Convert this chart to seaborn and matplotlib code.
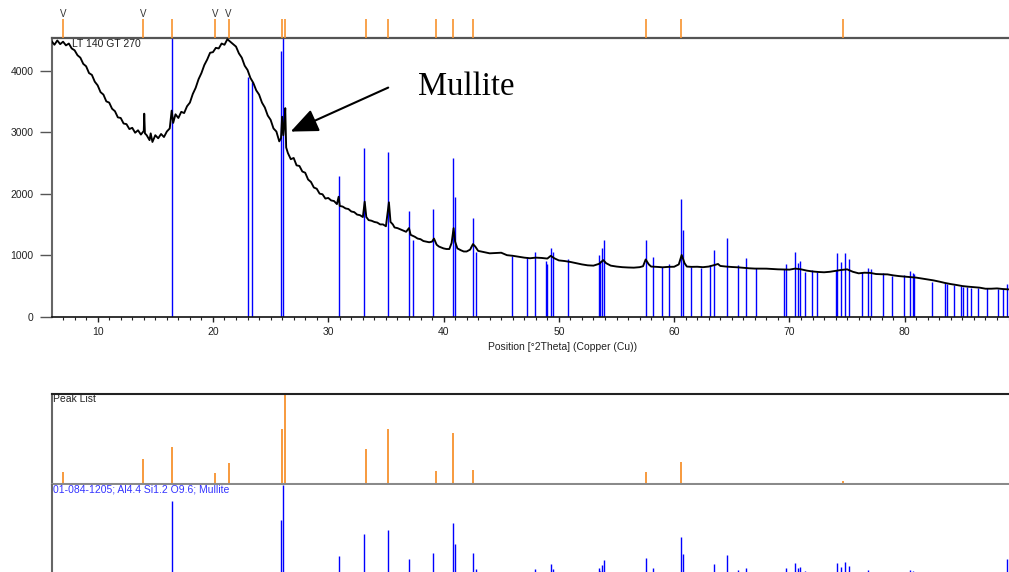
import numpy as np
import pandas as pd
import seaborn as sns
import matplotlib.pyplot as plt
from matplotlib.ticker import MultipleLocator

# measured scan (2theta, counts)
scan_points = [
    (6.00, 4480), (6.25, 4420), (6.50, 4490), (6.75, 4430), (7.00, 4470), (7.25, 4410),
    (7.50, 4440), (7.75, 4360), (8.00, 4330), (8.25, 4250), (8.50, 4210), (8.75, 4110),
    (9.00, 4070), (9.25, 3960), (9.50, 3930), (9.75, 3820), (10.00, 3760), (10.25, 3650),
    (10.50, 3610), (10.75, 3500), (11.00, 3480), (11.25, 3380), (11.50, 3340), (11.75, 3240),
    (12.00, 3230), (12.25, 3140), (12.50, 3130), (12.75, 3050), (13.00, 3070), (13.25, 2990),
    (13.50, 3030), (13.75, 2960), (14.00, 3020), (14.04, 3300), (14.10, 2980), (14.25, 2950),
    (14.50, 2870), (14.60, 2980), (14.75, 2840), (15.00, 2950), (15.25, 2900), (15.50, 2970),
    (15.75, 2920), (16.00, 3010), (16.25, 3060), (16.42, 3350), (16.55, 3150), (16.75, 3290),
    (17.00, 3230), (17.25, 3330), (17.50, 3310), (17.75, 3420), (18.00, 3480), (18.25, 3620),
    (18.50, 3720), (18.75, 3860), (19.00, 3960), (19.25, 4090), (19.50, 4180), (19.75, 4290),
    (20.00, 4300), (20.25, 4370), (20.50, 4360), (20.75, 4440), (21.00, 4420), (21.25, 4510),
    (21.50, 4470), (21.75, 4430), (22.00, 4390), (22.25, 4280), (22.50, 4210), (22.75, 4080),
    (23.00, 4010), (23.25, 3880), (23.50, 3800), (23.75, 3680), (24.00, 3610), (24.25, 3480),
    (24.50, 3400), (24.75, 3270), (25.00, 3200), (25.25, 3060), (25.50, 3010), (25.75, 2850),
    (25.90, 2900), (26.00, 3250), (26.10, 2950), (26.20, 3150), (26.27, 3390), (26.35, 2750),
    (26.50, 2660), (26.75, 2560), (27.00, 2580), (27.25, 2460), (27.50, 2450), (27.75, 2360),
    (28.00, 2340), (28.25, 2230), (28.50, 2190), (28.75, 2100), (29.00, 2080), (29.25, 2000),
    (29.50, 1990), (29.75, 1920), (30.00, 1930), (30.25, 1890), (30.50, 1880), (30.75, 1830),
    (30.90, 1950), (31.00, 1800), (31.25, 1790), (31.50, 1760), (31.75, 1750), (32.00, 1710),
    (32.25, 1700), (32.50, 1660), (32.75, 1650), (33.00, 1620), (33.16, 1870), (33.30, 1620),
    (33.50, 1570), (33.75, 1560), (34.00, 1540), (34.25, 1530), (34.50, 1500), (34.75, 1500),
    (35.00, 1470), (35.26, 1860), (35.40, 1540), (35.60, 1500), (35.75, 1450), (36.00, 1440),
    (36.25, 1420), (36.50, 1400), (36.75, 1380), (37.00, 1440), (37.15, 1330), (37.50, 1300),
    (37.75, 1270), (38.00, 1260), (38.25, 1230), (38.50, 1220), (38.75, 1210), (39.00, 1220),
    (39.17, 1270), (39.40, 1170), (39.60, 1140), (40.00, 1110), (40.25, 1100), (40.50, 1100),
    (40.70, 1200), (40.87, 1440), (41.00, 1220), (41.20, 1110), (41.50, 1080), (41.75, 1060),
    (42.00, 1060), (42.30, 1090), (42.55, 1180), (42.75, 1140), (43.00, 1070), (43.50, 1050),
    (44.00, 1030), (44.50, 1035), (45.00, 1040), (45.50, 1000), (46.00, 990), (46.50, 975),
    (47.00, 960), (47.50, 950), (48.00, 960), (48.50, 955), (49.00, 945), (49.30, 990),
    (49.60, 950), (50.00, 915), (50.50, 905), (51.00, 890), (51.50, 870), (52.00, 850),
    (52.50, 835), (53.00, 830), (53.50, 860), (53.85, 920), (54.10, 870), (54.50, 830),
    (55.00, 815), (55.50, 805), (56.00, 800), (56.50, 797), (57.00, 805), (57.30, 820),
    (57.53, 930), (57.80, 850), (58.00, 815), (58.50, 810), (59.00, 803), (59.50, 810),
    (60.00, 812), (60.40, 850), (60.65, 1003), (60.90, 870), (61.10, 815), (61.50, 810),
    (62.00, 812), (62.50, 805), (63.00, 815), (63.50, 840), (63.80, 857), (64.00, 825),
    (64.50, 815), (65.00, 808), (65.50, 803), (66.00, 795), (66.50, 787), (67.00, 782),
    (67.50, 781), (68.00, 781), (68.50, 775), (69.00, 770), (69.50, 768), (70.00, 765),
    (70.50, 782), (71.00, 770), (71.50, 749), (72.00, 735), (72.50, 727), (73.00, 722),
    (73.50, 730), (74.00, 745), (74.50, 760), (75.00, 770), (75.50, 730), (76.00, 705),
    (76.50, 715), (77.00, 712), (77.50, 694), (78.00, 690), (78.50, 688), (79.00, 672),
    (79.50, 660), (80.00, 652), (80.50, 645), (81.00, 635), (81.50, 620), (82.00, 605),
    (82.50, 590), (83.00, 570), (83.50, 548), (84.00, 530), (84.50, 515), (85.00, 498),
    (85.50, 488), (86.00, 480), (86.50, 472), (87.00, 455), (87.50, 455), (88.00, 460),
    (88.50, 450), (89.00, 444),
]

# peak list
peak_pos = [7.02, 13.95, 16.42, 20.17, 21.36, 25.96, 26.27, 33.27, 35.20, 39.31,
            40.82, 42.52, 57.55, 60.62, 74.67]
peak_rel = [13.4, 28, 41, 12, 23, 61, 100, 39, 61, 14.5, 57, 15, 13.4, 24.5, 2.5]
unmatched_peaks = [7.02, 13.95, 20.17, 21.36]

# reference pattern 01-084-1205 (mullite)
ref_pos = [16.42, 23.06, 23.41, 25.93, 26.10, 30.90, 33.10, 35.20, 37.03, 37.37,
           39.11, 40.79, 40.96, 42.52, 42.78, 45.93, 47.26, 47.95, 48.88, 48.99,
           49.34, 49.52, 50.76, 53.45, 53.54, 53.71, 53.88, 57.55, 58.16, 58.97,
           59.58, 60.62, 60.79, 61.48, 62.35, 63.08, 63.48, 64.55, 65.51, 66.23,
           67.09, 69.55, 69.70, 70.48, 70.74, 70.91, 71.32, 71.93, 72.41, 74.00,
           74.15, 74.49, 74.84, 75.13, 76.31, 76.78, 77.04, 78.13, 78.89, 79.96,
           80.45, 80.74, 80.82, 82.38, 83.51, 83.68, 84.29, 84.87, 85.02, 85.42,
           85.71, 86.37, 87.10, 88.11, 88.49, 88.89]
ref_counts = [4600, 3900, 3820, 4320, 4600, 2290, 2740, 2675, 1720, 1250,
              1750, 2580, 1940, 1610, 1050, 990, 970, 1050, 900, 850,
              1120, 1050, 930, 1000, 900, 1110, 1240, 1240, 970, 813,
              860, 1914, 1410, 813, 787, 841, 1085, 1274, 846, 949,
              787, 770, 852, 1057, 868, 911, 732, 757, 732, 757,
              1030, 894, 1041, 933, 732, 797, 781, 705, 662, 678,
              743, 705, 690, 569, 553, 537, 510, 494, 483, 480,
              470, 470, 460, 455, 450, 537]
ref_rel = [82, 1.5, 1.5, 60, 100, 20, 45, 49, 16.6, 1.5,
           23.6, 57.6, 33.5, 23, 5.9, 1.5, 1.5, 5.9, 1.5, 1.5,
           11, 6, 1.5, 6.5, 3, 10, 15.5, 17.5, 6.5, 1.5,
           1.5, 41, 22.5, 1.5, 1.5, 1.5, 11, 21, 4, 7,
           1.5, 2.5, 6.5, 12.5, 7, 8, 3, 1.5, 1.5, 1.5,
           12.5, 8, 13.5, 9, 1.5, 4, 2.5, 1.5, 1.5, 1.5,
           4, 3, 1.5, 1.5, 1.5, 1.5, 1.5, 1.5, 1.5, 1.5,
           1.5, 1.5, 1.5, 1.5, 1.5, 17]

scan = pd.DataFrame(scan_points, columns=['two_theta', 'counts'])

sns.set_theme(style='white')
plt.rcParams['font.family'] = ['Liberation Sans', 'DejaVu Sans']

W, H = 1009, 572
XLIM = (6.04, 89.3)
orange = '#f7922e'
blue = '#0000ff'


def box(l, t, r, b):
    return [l / W, 1 - b / H, (r - l) / W, (b - t) / H]


fig = plt.figure(figsize=(W / 100, H / 100), dpi=100)

# main pattern
ax = fig.add_axes(box(52, 38, 1012, 316.7))
ax.vlines(ref_pos, 0, ref_counts, colors=blue, lw=1.0, zorder=2)
sns.lineplot(data=scan, x='two_theta', y='counts', ax=ax, color='black', lw=1.35,
             estimator=None, sort=False, zorder=3)
ax.set_xlim(*XLIM)
ax.set_ylim(0, 4530)
ax.set_yticks([0, 1000, 2000, 3000, 4000])
ax.xaxis.set_major_locator(MultipleLocator(10))
ax.xaxis.set_minor_locator(MultipleLocator(1))
ax.tick_params(axis='y', direction='out', length=8.6, width=1, color='#555',
               pad=4.8, labelsize=7.5, labelcolor='#222', left=True)
ax.tick_params(axis='x', which='major', direction='out', length=3.6, width=1,
               color='#222', pad=3.5, labelsize=7.5, labelcolor='#222', bottom=True)
ax.tick_params(axis='x', which='minor', direction='out', length=2.2, width=0.8,
               color='#222', bottom=True)
ax.set_xlabel('Position [°2Theta] (Copper (Cu))', fontsize=7.5, color='#222')
ax.xaxis.set_label_coords(0.532, -0.089)
ax.set_ylabel('')
ax.spines['right'].set_visible(False)
ax.spines['top'].set_color('#555')
ax.spines['top'].set_linewidth(1.6)
ax.spines['left'].set_color('#666')
ax.spines['left'].set_linewidth(1.5)
ax.spines['bottom'].set_color('#111')
ax.spines['bottom'].set_linewidth(1.2)
ax.text(72 / W, 1 - 44 / H, 'LT 140 GT 270', transform=fig.transFigure,
        fontsize=7.5, color='#222', va='center', ha='left')

ax.annotate('', xy=(26.74, 3009), xytext=(35.2, 3724),
            arrowprops=dict(arrowstyle='-|>,head_length=1.4,head_width=0.6',
                            color='black', lw=1.5, shrinkA=0, shrinkB=0))
fig.text(418 / W, 1 - 95 / H, 'Mullite', fontsize=23.5, color='black',
         family=['Liberation Serif', 'DejaVu Serif'], va='baseline', ha='left')

# peak markers above the plot
ax_top = fig.add_axes(box(52, 8, 1012, 38))
ax_top.vlines(peak_pos, 0, 19, colors=orange, lw=1.2)
for p in unmatched_peaks:
    ax_top.text(p, 24, 'V', ha='center', va='center', fontsize=7, color='#333')
ax_top.set_xlim(*XLIM)
ax_top.set_ylim(0, 30)
ax_top.axis('off')

# peak list panel
ax_pk = fig.add_axes(box(52, 394, 1012, 483.7))
ax_pk.vlines(peak_pos, 0, peak_rel, colors=orange, lw=1.3)
ax_pk.set_xlim(*XLIM)
ax_pk.set_ylim(0, 100)
ax_pk.set_xticks([])
ax_pk.set_yticks([])
ax_pk.spines['right'].set_visible(False)
ax_pk.spines['top'].set_color('#222')
ax_pk.spines['top'].set_linewidth(1.5)
ax_pk.spines['left'].set_color('#666')
ax_pk.spines['left'].set_linewidth(1.5)
ax_pk.spines['bottom'].set_color('#8a8a8a')
ax_pk.spines['bottom'].set_linewidth(2.2)
ax_pk.text(53 / W, 1 - 399.5 / H, 'Peak List', transform=fig.transFigure,
           fontsize=7.5, color='#222', va='center', ha='left')

# reference pattern panel
ax_ref = fig.add_axes(box(52, 484.8, 1012, 574))
ax_ref.vlines(ref_pos, 0, ref_rel, colors=blue, lw=1.0)
ax_ref.set_xlim(*XLIM)
ax_ref.set_ylim(0, 100)
ax_ref.set_xticks([])
ax_ref.set_yticks([])
for s in ['top', 'right', 'bottom']:
    ax_ref.spines[s].set_visible(False)
ax_ref.spines['left'].set_color('#666')
ax_ref.spines['left'].set_linewidth(1.5)
ax_ref.text(53 / W, 1 - 489 / H, '01-084-1205; Al4.4 Si1.2 O9.6; Mullite',
            transform=fig.transFigure, fontsize=7.5, color='#3333ff',
            va='center', ha='left')

fig.savefig('out.png', dpi=100, facecolor='white')
